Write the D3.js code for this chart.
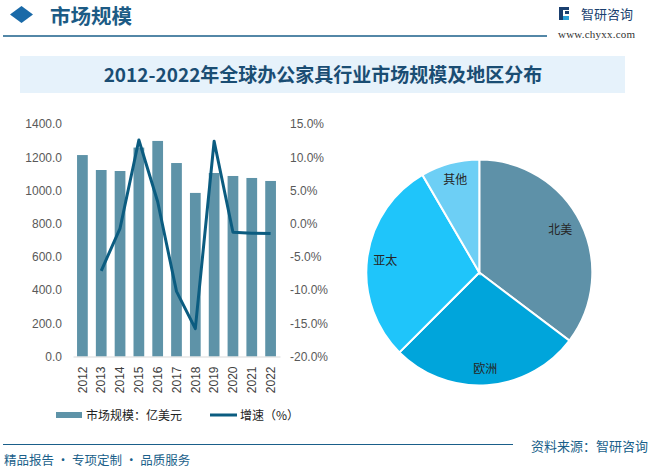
<!DOCTYPE html>
<html><head><meta charset="utf-8">
<script src="https://cdn.jsdelivr.net/npm/d3@7"></script>
<style>
html,body{margin:0;padding:0;background:#fff;}
svg{display:block;}
text{font-family:"Noto Sans CJK SC","Liberation Sans",sans-serif;}
</style></head>
<body>
<svg id="c" width="651" height="469"></svg>
<script>
const years = ["2012","2013","2014","2015","2016","2017","2018","2019","2020","2021","2022"];
const marketSize = [1213,1123,1117,1258,1298,1165,985,1105,1087,1075,1057];
const growth = [null,-7.1,-0.7,12.6,3.3,-10.2,-15.8,12.4,-1.3,-1.45,-1.5];
const leftTicks = [0,200,400,600,800,1000,1200,1400];
const rightTicks = [-20,-15,-10,-5,0,5,10,15];
const regions = ["北美","欧洲","亚太","其他"];
const regionShare = [35.3,27.2,29.1,8.4];
const regionColors = ["#5e91a8","#00a5db","#1fc5fa","#6dcff5"];

const svg = d3.select("#c");

// Header
svg.append("path").attr("d","M21.5,6 L33,14.5 L21.5,23 L10,14.5 Z").attr("fill","#1a6aa8");
svg.append("text").attr("x",50).attr("y",24).attr("font-size",20.5).attr("font-weight","bold")
  .attr("fill","#1c5b85").text("市场规模");
svg.append("line").attr("x1",3).attr("x2",547).attr("y1",36).attr("y2",36).attr("stroke","#1a5f8a").attr("stroke-width",1.5);
// logo
const lg = svg.append("g");
lg.append("rect").attr("x",559).attr("y",7).attr("width",4).attr("height",13).attr("fill","#1a3f6f");
lg.append("rect").attr("x",563).attr("y",7).attr("width",6).attr("height",3).attr("fill","#1a3f6f");
lg.append("rect").attr("x",565).attr("y",11).attr("width",4).attr("height",3).attr("fill","#1a3f6f");
lg.append("rect").attr("x",563).attr("y",16).attr("width",6).attr("height",4).attr("fill","#2a9fd8");
svg.append("text").attr("x",581).attr("y",19).attr("font-size",13).attr("fill","#1a3f6f").text("智研咨询");
svg.append("text").attr("x",558).attr("y",38).attr("font-size",11).attr("fill","#333")
  .style("font-family","'Liberation Serif',serif").attr("textLength",77).text("www.chyxx.com");

// Title box
svg.append("rect").attr("x",20).attr("y",56).attr("width",605).attr("height",37).attr("fill","#e6f2fb");
svg.append("text").attr("x",323).attr("y",82).attr("text-anchor","middle").attr("font-size",19)
  .attr("font-weight","bold").attr("fill","#1a4d73").text("2012-2022年全球办公家具行业市场规模及地区分布");

// Bar + line chart
const x = d3.scaleBand().domain(years).range([73,280]).paddingInner(0.43).paddingOuter(0.215);
const yL = d3.scaleLinear().domain([0,1400]).range([356.5,124]);
const yR = d3.scaleLinear().domain([-20,15]).range([356.5,124]);

svg.append("g").selectAll("rect").data(years).join("rect")
  .attr("x",d=>x(d)).attr("width",x.bandwidth())
  .attr("y",(d,i)=>yL(marketSize[i])).attr("height",(d,i)=>yL(0)-yL(marketSize[i]))
  .attr("fill","#5e93a8");

const axL = svg.append("g").attr("transform","translate(73,0)")
  .call(d3.axisLeft(yL).tickValues(leftTicks).tickFormat(d3.format(".1f")).tickSize(0).tickPadding(11));
axL.select(".domain").remove();
axL.selectAll("text").attr("font-size",12).attr("fill","#595959").style("font-family","'Liberation Sans',sans-serif");

const axR = svg.append("g").attr("transform","translate(280,0)")
  .call(d3.axisRight(yR).tickValues(rightTicks).tickFormat(d=>d.toFixed(1)+"%").tickSize(0).tickPadding(10));
axR.select(".domain").remove();
axR.selectAll("text").attr("font-size",12).attr("fill","#595959").style("font-family","'Liberation Sans',sans-serif");

const axX = svg.append("g").attr("transform","translate(0,356.5)")
  .call(d3.axisBottom(x).tickSize(0).tickPadding(0));
axX.select(".domain").attr("stroke","#d9d9d9");
axX.selectAll("text").attr("font-size",12).attr("fill","#404040").style("font-family","'Liberation Sans',sans-serif")
  .attr("transform","rotate(-90)").attr("text-anchor","end").attr("dx","-10").attr("dy","0.35em").attr("y",0).attr("x",0);

const lineData = years.map((y,i)=>({y,v:growth[i]})).filter(d=>d.v!==null);
svg.append("path").datum(lineData)
  .attr("d",d3.line().x(d=>x(d.y)+x.bandwidth()/2).y(d=>yR(d.v)))
  .attr("fill","none").attr("stroke","#0b5c80").attr("stroke-width",3).attr("stroke-linejoin","round");

// Legend
svg.append("rect").attr("x",56).attr("y",412).attr("width",26).attr("height",6).attr("fill","#5e93a8");
svg.append("text").attr("x",86).attr("y",419.5).attr("font-size",12).attr("fill","#222").text("市场规模：亿美元");
svg.append("line").attr("x1",210).attr("x2",237).attr("y1",415).attr("y2",415).attr("stroke","#0b5c80").attr("stroke-width",3);
svg.append("text").attr("x",240).attr("y",419.5).attr("font-size",12).attr("fill","#222").text("增速（%）");

// Pie
const cx = 479.3, cy = 272.5, r = 113;
const pie = d3.pie().sort(null).value(d=>d)(regionShare);
const arc = d3.arc().innerRadius(0).outerRadius(r);
const pg = svg.append("g").attr("transform",`translate(${cx},${cy})`);
pg.selectAll("path").data(pie).join("path").attr("d",arc)
  .attr("fill",(d,i)=>regionColors[i]).attr("stroke","#fff").attr("stroke-width",2);
const labelPos = [[81,-43],[6,96],[-94,-12],[-24,-93]];
pg.selectAll("text").data(pie).join("text")
  .attr("x",(d,i)=>labelPos[i][0]).attr("y",(d,i)=>labelPos[i][1])
  .attr("text-anchor","middle").attr("dy","0.35em").attr("font-size",12).attr("fill","#262626")
  .text((d,i)=>regions[i]);

// Footer
svg.append("line").attr("x1",3).attr("x2",513).attr("y1",444.5).attr("y2",444.5).attr("stroke","#1a5f8a").attr("stroke-width",1.2);
svg.append("text").attr("x",4).attr("y",465).attr("font-size",12.5).attr("fill","#1a5f8a").text("精品报告 · 专项定制 · 品质服务");
svg.append("text").attr("x",648).attr("y",451).attr("text-anchor","end").attr("font-size",13).attr("fill","#1a5f8a").text("资料来源：智研咨询");
</script>
</body></html>
